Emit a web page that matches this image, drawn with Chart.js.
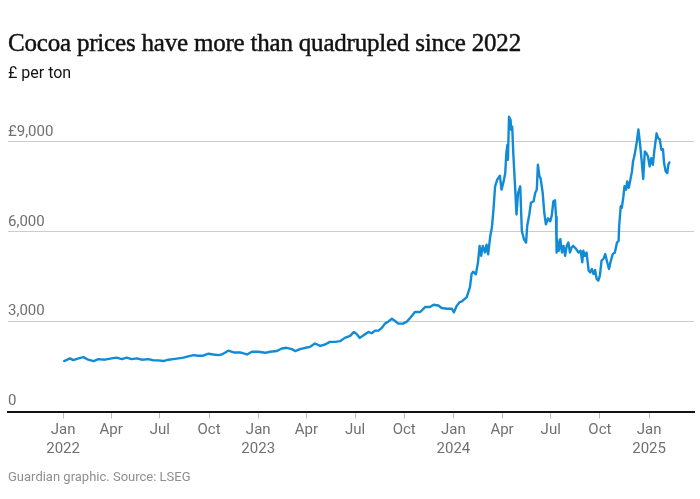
<!DOCTYPE html>
<html><head><meta charset="utf-8">
<script src="https://cdn.jsdelivr.net/npm/chart.js@4.4.0/dist/chart.umd.min.js"></script>
<style>
html,body{margin:0;padding:0;background:#fff;}
#wrap{position:relative;width:700px;height:499px;overflow:hidden;}
canvas{position:absolute;left:0;top:0;}
.t{position:absolute;left:8px;white-space:nowrap;}
#title{top:28px;font-family:'Liberation Serif',serif;font-size:25px;color:#121212;line-height:30px;letter-spacing:-0.2px;-webkit-text-stroke:0.45px #121212;}
#sub{top:63px;font-family:Roboto,sans-serif;font-size:16px;color:#121212;line-height:20px;}
#src{top:468px;font-family:Roboto,sans-serif;font-size:13px;color:#8f8f8f;line-height:18px;}
</style></head><body>
<div id="wrap">
<canvas id="c" width="700" height="499"></canvas>
<div class="t" id="title">Cocoa prices have more than quadrupled since 2022</div>
<div class="t" id="sub">£ per ton</div>
<div class="t" id="src">Guardian graphic. Source: LSEG</div>
</div>
<script>
// days since 1 Jan 2022
const dayOffsets = [2,13,19,29,38,47,57,66,78,91,100,110,119,128,138,147,160,169,178,188,197,206,216,225,234,244,253,262,272,281,291,297,309,319,331,344,353,365,378,387,400,409,418,428,434,443,453,462,471,481,490,499,509,518,527,537,544,549,555,562,571,577,584,590,596,602,608,615,621,627,636,643,649,658,668,677,686,693,702,708,718,727,731,736,742,746,755,761,764,767,772,776,779,782,785,789,792,795,799,802,805,808,812,817,820,824,827,829,831,832,834,837,838,840,842,845,848,851,855,858,862,866,868,872,875,880,883,886,888,891,893,897,900,903,907,911,914,917,920,922,923,924,927,930,933,936,939,942,945,948,951,954,959,964,968,971,973,976,979,983,986,989,992,995,998,1001,1004,1007,1011,1014,1017,1021,1024,1028,1032,1036,1039,1040,1043,1045,1048,1050,1053,1055,1058,1061,1064,1066,1069,1073,1076,1079,1082,1085,1088,1091,1094,1097,1100,1103,1106,1110,1113,1116,1119,1122,1124,1127,1130,1132,1134];
// £ per ton
const prices = [1684,1773,1717,1773,1817,1730,1684,1750,1730,1773,1797,1750,1797,1750,1773,1730,1750,1707,1707,1684,1730,1750,1773,1797,1840,1883,1862,1862,1929,1905,1883,1905,2029,1972,1972,1905,1995,1995,1960,1995,2018,2105,2127,2083,2018,2083,2127,2160,2270,2193,2237,2326,2326,2348,2458,2524,2657,2591,2458,2547,2657,2613,2702,2702,2790,2934,3000,3100,3022,2934,2934,3000,3122,3321,3321,3487,3487,3564,3540,3454,3432,3432,3310,3520,3653,3675,3818,4150,4591,4668,4580,4979,5530,5198,5530,5310,5570,5250,5861,6140,6746,7519,7740,7873,7409,7684,7962,8626,8901,8404,9839,9729,9398,9508,8626,7630,6580,7298,7519,6027,5752,5642,6193,6580,6968,7021,7298,7409,8238,7850,7795,7300,6637,6250,6450,6350,6550,7021,7050,6500,5310,5752,5365,5752,5310,5530,5198,5530,5642,5310,5475,5530,5440,5310,5365,4979,5365,5198,5310,4700,4646,4757,4591,4724,4425,4370,4536,5033,5110,5255,5033,4757,5000,5255,5310,5642,5697,6193,6857,6800,7187,7519,7409,7684,7470,7740,8017,8349,8570,9000,9421,8950,8404,7763,8680,8626,8514,8183,8460,8238,8735,9288,9122,9089,8735,8757,8294,8017,7962,8238,8316];

const xTickDays = [0,90,181,273,365,455,546,638,730,821,912,1004,1096];
const xTickLabels = [["Jan","2022"],"Apr","Jul","Oct",["Jan","2023"],"Apr","Jul","Oct",["Jan","2024"],"Apr","Jul","Oct",["Jan","2025"]];
const yTicks = [0,3000,6000,9000];
const yTickLabels = ["0","3,000","6,000","£9,000"];

new Chart(document.getElementById('c'), {
  type: 'line',
  data: {
    datasets: [{
      data: dayOffsets.map((d, i) => ({ x: d, y: prices[i] })),
      borderColor: '#128bd6',
      borderWidth: 2.4,
      pointRadius: 0,
      tension: 0,
      borderJoinStyle: 'round',
      borderCapStyle: 'round'
    }]
  },
  options: {
    responsive: false,
    animation: false,
    layout: { padding: { left: 8, right: 6, top: 112, bottom: 38.5 } },
    plugins: { legend: { display: false }, tooltip: { enabled: false } },
    scales: {
      x: {
        type: 'linear', min: -103, max: 1180,
        afterBuildTicks: a => { a.ticks = xTickDays.map(v => ({ value: v })); },
        ticks: {
          autoSkip: false, maxRotation: 0, minRotation: 0, padding: 2,
          color: '#707070',
          font: { family: 'Roboto', size: 15, lineHeight: 19 / 15 },
          callback: (v, i) => xTickLabels[i]
        },
        grid: { drawOnChartArea: false, drawTicks: true, tickLength: 7, color: '#bdbdbd', lineWidth: 1 },
        border: { display: true, color: '#121212', width: 2 }
      },
      y: {
        min: 0, max: 10000,
        afterBuildTicks: a => { a.ticks = yTicks.map(v => ({ value: v })); },
        ticks: {
          mirror: true, padding: 0, labelOffset: -10,
          color: '#707070',
          font: { family: 'Roboto', size: 15 },
          callback: (v, i) => yTickLabels[i]
        },
        grid: {
          drawTicks: false, lineWidth: 1,
          color: ctx => (ctx.tick && ctx.tick.value === 0) ? 'rgba(0,0,0,0)' : '#cccccc'
        },
        border: { display: false }
      }
    }
  }
});
</script>
</body></html>
